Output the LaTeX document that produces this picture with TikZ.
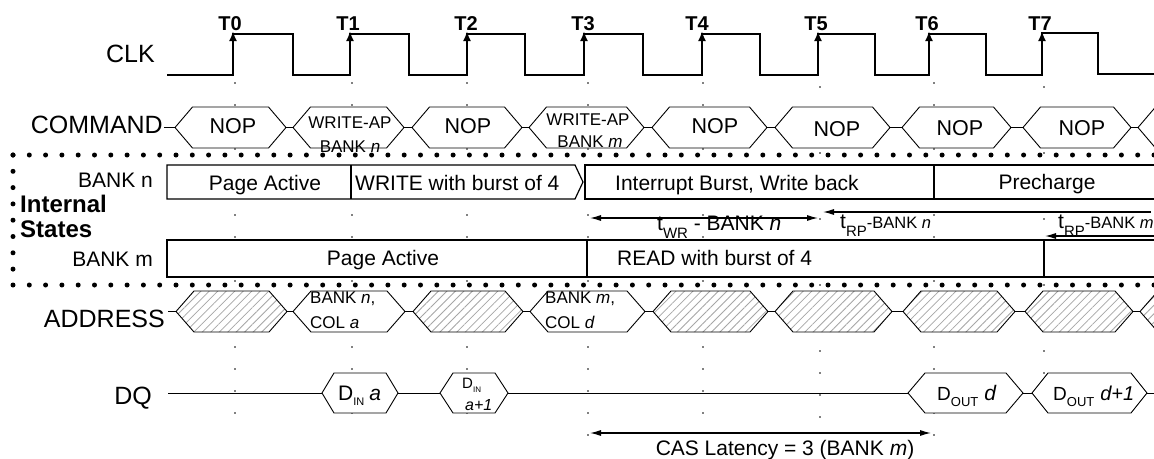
\documentclass[tikz,border=0pt]{standalone}
\usepackage{fontspec}
\setmainfont{Liberation Sans}
\usetikzlibrary{arrows.meta,patterns.meta}
\newcommand\fsz[1]{\fontsize{#1pt}{#1pt}\selectfont}
% name, left tip x, right tip x, centre y, half height, slant, style
\newcommand\myhex[7]{%
  \path[#7] (#2,#4) -- (#2+#6,#4-#5) -- (#3-#6,#4-#5) -- (#3,#4) -- (#3-#6,#4+#5) -- (#2+#6,#4+#5) -- cycle;
  \coordinate (#1-l) at (#2,#4);
  \coordinate (#1-r) at (#3,#4);}
\begin{document}
\begin{tikzpicture}[x=1pt,y=-1pt,
  clk/.style={line width=2.5pt,line join=miter},
  clkarrow/.style={line width=2.5pt,-{Latex[length=10pt,width=8pt]}},
  hexw/.style={draw,line width=0.9pt,fill=white},
  hexh/.style={draw,line width=0.9pt,preaction={fill=white},pattern={Lines[angle=45,distance=6pt,line width=0.8pt]},pattern color=black!35},
  wire/.style={line width=1pt},
  bigdots/.style={line width=5pt,line cap=round,dash pattern=on 0pt off 16.3pt},
  guide/.style={line width=1.8pt,line cap=round,dash pattern=on 0pt off 22pt},
  rowbox/.style={draw,line width=1.2pt,fill=white},
  divider/.style={line width=2pt},
  dimboth/.style={line width=1.2pt,{Latex[length=11pt,width=6pt]}-{Latex[length=11pt,width=6pt]}},
  dimleft/.style={line width=1.2pt,{Latex[length=11pt,width=6pt]}-},
  siglbl/.style={font=\fsz{25},anchor=base east,inner sep=0pt},
  tlbl/.style={font=\bfseries\fsz{20},anchor=base,inner sep=0pt},
  cmdtxt/.style={font=\fsz{21.5},anchor=base,inner sep=0pt},
  smalltxt/.style={font=\fsz{17},inner sep=0pt},
  boxtxt/.style={font=\fsz{21},inner sep=0pt},
  banklbl/.style={font=\fsz{21},anchor=base east,inner sep=0pt},
  isttxt/.style={font=\bfseries\fsz{24},anchor=base west,inner sep=0pt}
]
\clip (0,0) rectangle (1154,458);
\fill[white] (0,0) rectangle (1154,458);

% ---------- vertical timing guides ----------
\draw[guide] (235,83) -- (235,417);
\draw[guide] (352,83) -- (352,417);
\draw[guide] (467,83) -- (467,417);
\draw[guide] (588,83) -- (588,455);
\draw[guide] (703,83) -- (703,430);
\draw[guide] (820,87) -- (820,430);
\draw[guide] (934,83) -- (934,455);
\draw[guide] (1044,87) -- (1044,400);

% ---------- clock ----------
\node[siglbl] (clklbl) at (155,62) {CLK};
\draw[clk] (167,75) -- (233,75) -- (233,34) -- (293,34) -- (293,75) -- (350,75) -- (350,34)
  -- (409,34) -- (409,75) -- (467,75) -- (467,34) -- (525,34) -- (525,75) -- (584,75)
  -- (584,34) -- (643,34) -- (643,75) -- (702,75) -- (702,34) -- (760,34) -- (760,75)
  -- (818,75) -- (818,34) -- (875,34) -- (875,75) -- (929,75) -- (929,34) -- (986,34)
  -- (986,75) -- (1042,75) -- (1042,33) -- (1098,33) -- (1098,74) -- (1160,74);
\foreach \x in {233,350,467,584,702,818,929,1042}
  \draw[clkarrow] (\x,60) -- (\x,31);
\node[tlbl] (t0) at (230,30) {T0};
\node[tlbl] (t1) at (348,30) {T1};
\node[tlbl] (t2) at (466,30) {T2};
\node[tlbl] (t3) at (583,30) {T3};
\node[tlbl] (t4) at (697,30) {T4};
\node[tlbl] (t5) at (816,30) {T5};
\node[tlbl] (t6) at (927,30) {T6};
\node[tlbl] (t7) at (1040,30) {T7};

% ---------- COMMAND ----------
\node[siglbl] (cmdlbl) at (163,133) {COMMAND};
\myhex{c1}{175}{286}{127.5}{20.5}{17.5}{hexw}
\myhex{c2}{293}{404}{127.5}{20.5}{17.5}{hexw}
\myhex{c3}{412}{522}{127.5}{20.5}{17.5}{hexw}
\myhex{c4}{529}{644}{127.5}{20.5}{17.5}{hexw}
\myhex{c5}{652}{767}{127.5}{20.5}{17.5}{hexw}
\myhex{c6}{775}{890}{127.5}{20.5}{17.5}{hexw}
\myhex{c7}{902}{1011}{127.5}{20.5}{17.5}{hexw}
\myhex{c8}{1023}{1131}{127.5}{20.5}{17.5}{hexw}
\myhex{c9}{1138}{1260}{127.5}{20.5}{17.5}{hexw}
\draw[wire] ([xshift=1pt]cmdlbl.east |- c1-l) -- (c1-l);
\draw[wire] (c1-r) -- (c2-l);
\draw[wire] (c2-r) -- (c3-l);
\draw[wire] (c3-r) -- (c4-l);
\draw[wire] (c4-r) -- (c5-l);
\draw[wire] (c5-r) -- (c6-l);
\draw[wire] (c6-r) -- (c7-l);
\draw[wire] (c7-r) -- (c8-l);
\draw[wire] (c8-r) -- (c9-l);
\node[cmdtxt] (c1t) at (233,133) {NOP};
\node[smalltxt,anchor=base] (c2ta) at (350,128) {WRITE-AP};
\node[smalltxt,anchor=base] (c2tb) at (350,152) {BANK \textit{n}};
\node[cmdtxt] (c3t) at (468,133) {NOP};
\node[smalltxt,anchor=base] (c4ta) at (588,125) {WRITE-AP};
\node[smalltxt,anchor=base] (c4tb) at (590,147) {BANK \textit{m}};
\node[cmdtxt] (c5t) at (715,133) {NOP};
\node[cmdtxt] (c6t) at (837,136) {NOP};
\node[cmdtxt] (c7t) at (960,135) {NOP};
\node[cmdtxt] (c8t) at (1082,135) {NOP};

% ---------- Internal states ----------
\draw[bigdots] (13,155) -- (1160,155);
\draw[bigdots] (13,285) -- (1160,285);
\draw[bigdots] (13,155) -- (13,285);
\node[isttxt] (ist1) at (20,212) {Internal};
\node[isttxt] (ist2) at (20,237) {States};

\node[banklbl] (bnlbl) at (153,187) {BANK n};
\path[rowbox] (583,182) -- (575,165) -- (167,165) -- (167,199) -- (575,199) -- cycle;
\path[rowbox] (1160,165) -- (585,165) -- (585,199) -- (1160,199);
\draw[divider] (351,165) -- (351,199);
\draw[divider] (934,165) -- (934,199);
\node[boxtxt,anchor=base] (bn1) at (265,190) {Page Active};
\node[boxtxt,anchor=base west] (bn2) at (355,190) {WRITE with burst of 4};
\node[boxtxt,anchor=base west] (bn3) at (615,190) {Interrupt Burst, Write back};
\node[boxtxt,anchor=base] (bn4) at (1047,189) {Precharge};

\node[banklbl] (bmlbl) at (153,266) {BANK m};
\path[rowbox] (1160,240) -- (167,240) -- (167,277) -- (1160,277);
\draw[divider] (587,240) -- (587,277);
\draw[divider] (1044,240) -- (1044,277);
\node[boxtxt,anchor=base] (bm1) at (383,265) {Page Active};
\node[boxtxt,anchor=base west] (bm2) at (617,265) {READ with burst of 4};

% timing annotations
\coordinate (wr1) at (590,218);
\coordinate (wr2) at (818,218);
\draw[dimboth] (wr1) -- (wr2);
\node[font=\fsz{21},anchor=base west,inner sep=0pt] (twr) at (657,230)
  {t\raisebox{-8pt}{\fsz{15}WR} - BANK \textit{n}};
\coordinate (rpn1) at (823,212);
\coordinate (rpn2) at (1151,212);
\draw[dimleft] (rpn1) -- (rpn2);
\node[font=\fsz{21},anchor=base west,inner sep=0pt] (trpn) at (840,228)
  {t\raisebox{-8pt}{\fsz{15}RP}{\fsz{16.5}-BANK \textit{n}}};
\coordinate (rpm1) at (1045,236);
\coordinate (rpm2) at (1160,236);
\draw[dimleft] (rpm1) -- (rpm2);
\node[font=\fsz{21},anchor=base west,inner sep=0pt] (trpm) at (1058,228)
  {t\raisebox{-8pt}{\fsz{15}RP}{\fsz{16.5}-BANK \textit{m}}};

% ---------- ADDRESS ----------
\node[siglbl] (addrlbl) at (165,327) {ADDRESS};
\myhex{a1}{176}{287}{311.5}{20.5}{18}{hexh}
\myhex{a2}{293}{405}{311.5}{20.5}{18}{hexw}
\myhex{a3}{413}{523}{311.5}{20.5}{18}{hexh}
\myhex{a4}{530}{645}{311.5}{20.5}{18}{hexw}
\myhex{a5}{653}{768}{311.5}{20.5}{18}{hexh}
\myhex{a6}{775}{892}{311.5}{20.5}{18}{hexh}
\myhex{a7}{903}{1015}{311.5}{20.5}{18}{hexh}
\myhex{a8}{1025}{1133}{311.5}{20.5}{18}{hexh}
\myhex{a9}{1140}{1260}{311.5}{20.5}{18}{hexh}
\draw[wire] ([xshift=3pt]addrlbl.east |- a1-l) -- (a1-l);
\draw[wire] (a1-r) -- (a2-l);
\draw[wire] (a2-r) -- (a3-l);
\draw[wire] (a3-r) -- (a4-l);
\draw[wire] (a4-r) -- (a5-l);
\draw[wire] (a5-r) -- (a6-l);
\draw[wire] (a6-r) -- (a7-l);
\draw[wire] (a7-r) -- (a8-l);
\draw[wire] (a8-r) -- (a9-l);
\node[smalltxt,anchor=base west] (a2ta) at (310,303) {BANK \textit{n},};
\node[smalltxt,anchor=base west] (a2tb) at (310,328) {COL \textit{a}};
\node[smalltxt,anchor=base west] (a4ta) at (545,303) {BANK \textit{m},};
\node[smalltxt,anchor=base west] (a4tb) at (545,328) {COL \textit{d}};

% ---------- DQ ----------
\node[siglbl] (dqlbl) at (152,404) {DQ};
\coordinate (dq0) at (168,393);
\coordinate (dqend) at (1160,393);
\myhex{d1}{322}{398}{393}{20}{12}{hexw}
\myhex{d2}{440}{508}{393}{20}{13}{hexw}
\myhex{d3}{908}{1023}{393}{20}{17}{hexw}
\myhex{d4}{1032}{1147}{393}{20}{16}{hexw}
\draw[wire] (dq0) -- (d1-l);
\draw[wire] (d1-r) -- (d2-l);
\draw[wire] (d2-r) -- (d3-l);
\draw[wire] (d3-r) -- (d4-l);
\draw[wire] (d4-r) -- (dqend);
\node[font=\fsz{21},anchor=base west,inner sep=0pt] (d1t) at (338,400)
  {D\raisebox{-5pt}{\fsz{11}IN}\hspace{5pt}\textit{a}};
\node[font=\fsz{15},anchor=base west,inner sep=0pt] (d2ta) at (462,388)
  {D\raisebox{-4pt}{\fsz{8}IN}};
\node[font=\fsz{16},anchor=base west,inner sep=0pt] (d2tb) at (465,410) {\textit{a+1}};
\node[font=\fsz{19},anchor=base west,inner sep=0pt] (d3t) at (937,400)
  {D\raisebox{-6pt}{\fsz{13}OUT}\hspace{6pt}{\fsz{21}\textit{d}}};
\node[font=\fsz{19},anchor=base west,inner sep=0pt] (d4t) at (1053,400)
  {D\raisebox{-6pt}{\fsz{13}OUT}\hspace{6pt}{\fsz{20}\textit{d+1}}};

% CAS latency
\coordinate (cas1) at (590,433);
\coordinate (cas2) at (931,433);
\draw[dimboth] (cas1) -- (cas2);
\node[font=\fsz{21},anchor=base,inner sep=0pt] (cast) at (785,455) {CAS Latency = 3 (BANK \textit{m})};
\end{tikzpicture}
\end{document}
